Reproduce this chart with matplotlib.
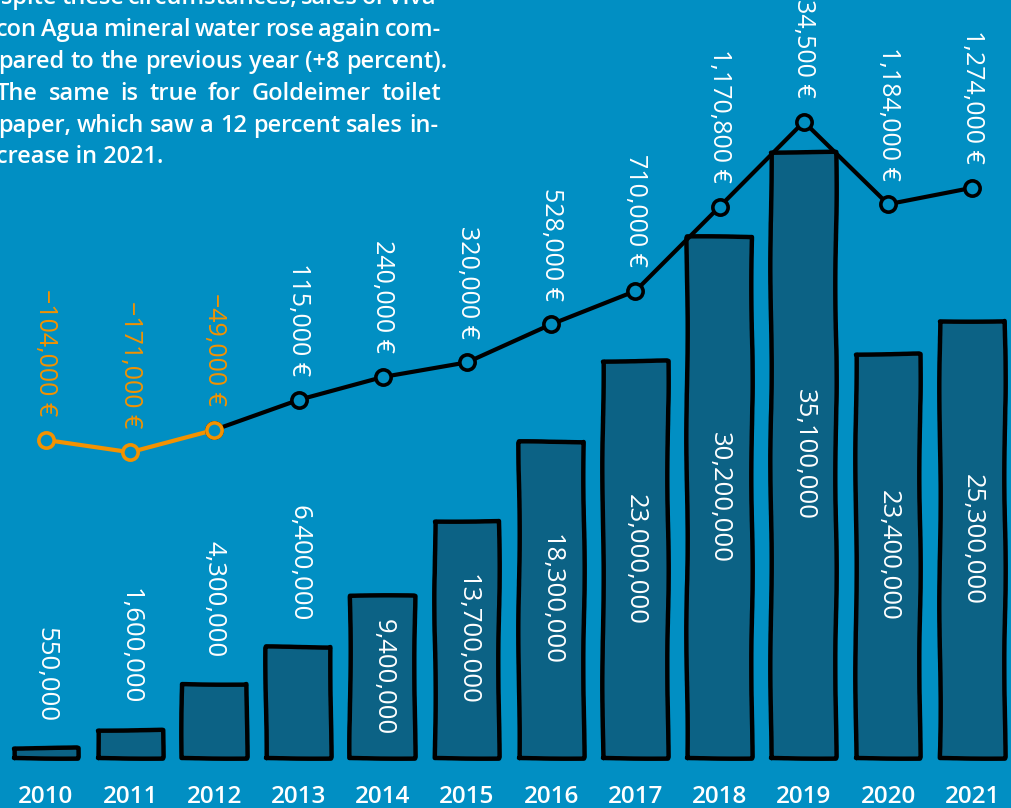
import matplotlib
matplotlib.use("Agg")
import matplotlib.pyplot as plt
import numpy as np

years = ["2010", "2011", "2012", "2013", "2014", "2015", "2016", "2017", "2018", "2019", "2020", "2021"]
sales = [550000, 1600000, 4300000, 6400000, 9400000, 13700000, 18300000, 23000000,
         30200000, 35100000, 23400000, 25300000]
profit = [-104000, -171000, -49000, 115000, 240000, 320000, 528000, 710000,
          1170800, 1634500, 1184000, 1274000]
paragraph = [
    "Despite these circumstances, sales of Viva",
    "con Agua mineral water rose again com-",
    "pared to the previous year (+8 percent).",
    "The same is true for Goldeimer toilet",
    "paper, which saw a 12 percent sales in-",
    "crease in 2021.",
]

BG = "#018fc3"
BAR = "#0c6285"
ORANGE = "#f39200"
FONT = "Open Sans"

W, H = 1011, 808
fig = plt.figure(figsize=(W / 100, H / 100), dpi=100, facecolor=BG)
ax = fig.add_axes([0, 0, 1, 1], facecolor=BG)
x = np.arange(len(years))

bars = ax.bar(x, np.array(sales) / 1e6, width=0.77, color=BAR, edgecolor="black",
              linewidth=3.2, zorder=2)
for b in bars:
    b.set_sketch_params(scale=0.7, length=250, randomness=3)
    b.set_joinstyle("round")
ax.set_xlim(-0.546, 11.46)
ax.set_ylim(-2.9, 43.9)
ax.axis("off")

for i, v in enumerate(sales):
    h = v / 1e6
    lab = f"{v:,}"
    if v < 8e6:
        ax.annotate(lab, (i, h), xytext=(0, 19), textcoords="offset points",
                    rotation=-90, ha="center", va="bottom", color="white",
                    fontsize=18.5, family=FONT, zorder=5)
    else:
        ax.text(i, h / 2, lab, rotation=-90, ha="center", va="center",
                color="white", fontsize=18.5, family=FONT, zorder=5)

for i, y in enumerate(years):
    ax.annotate(y, (i, 0), xytext=(0, -28), textcoords="offset points",
                ha="center", va="center", color="white", fontsize=17.5,
                family=FONT, fontweight="semibold")

ax2 = ax.twinx()
ax2.set_ylim(-2115000, 2300000)
ax2.axis("off")
ax2.set_xlim(ax.get_xlim())
p = np.array(profit)
ax2.plot(x[:3], p[:3], color=ORANGE, lw=3, zorder=3, solid_capstyle="round")
ax2.plot(x[2:], p[2:], color="black", lw=3, zorder=3, solid_capstyle="round")
ax2.plot(x[2:], p[2:], "o", ms=11, mfc=BG, mec="black", mew=2.6, zorder=4)
ax2.plot(x[:3], p[:3], "o", ms=11, mfc=BG, mec=ORANGE, mew=2.6, zorder=4)

for i, v in enumerate(profit):
    lab = f"{v:,} €".replace("-", "\u2212")
    col = ORANGE if v < 0 else "white"
    ax2.annotate(lab, (i, v), xytext=(0, 17), textcoords="offset points",
                 rotation=-90, ha="center", va="bottom", color=col,
                 fontsize=18, family=FONT, zorder=5)

# justified paragraph (last line left-aligned)
renderer = fig.canvas.get_renderer()
baselines = [4, 36, 68, 100, 132, 163]
xstarts = [-29, -4, -2, -4, -2, -4]
right_edges = [436, 441, 447, 441, 438, None]
tkw = dict(ha="left", va="baseline", color="white", fontsize=17,
           family=FONT, fontweight="semibold")
for line, yb, xs, xr in zip(paragraph, baselines, xstarts, right_edges):
    ypos = 1 - yb / H
    if xr is None:
        fig.text(xs / W, ypos, line, **tkw)
        continue
    words = line.split(" ")
    arts = [fig.text(0, ypos, w, **tkw) for w in words]
    widths = [a.get_window_extent(renderer).width for a in arts]
    gap = (xr - xs - sum(widths)) / (len(words) - 1)
    cur = xs
    for a, wd in zip(arts, widths):
        a.set_x(cur / W)
        cur += wd + gap

fig.savefig("out.png", dpi=100, facecolor=BG)
